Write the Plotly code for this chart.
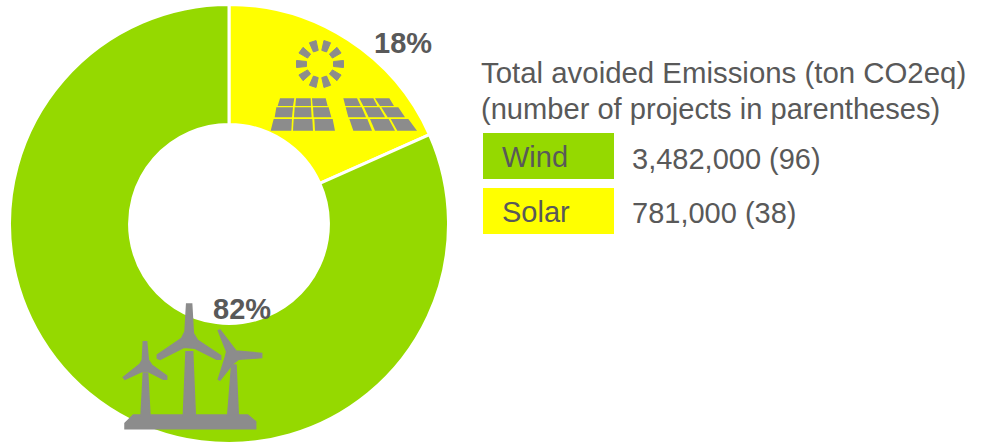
import math
import plotly.graph_objects as go

W, H = 983, 446  # the window clips the figure at 442 px, as the ring does in the reference
categories = ["Solar", "Wind"]
emissions = [781000, 3482000]
projects = [38, 96]
percent_labels = ["18%", "82%"]
colors = ["#FFFF00", "#95D900"]
GREY = "#8C8C8C"
TEXT = "#595959"
FONT = "Liberation Sans"


def path(points):
    return "M " + " L ".join(f"{x / W:.5f},{1 - y / H:.5f}" for x, y in points) + " Z"


def icon(points, stroke=0):
    return dict(type="path", xref="paper", yref="paper", path=path(points),
                fillcolor=GREY, line=dict(width=stroke, color=GREY), layer="above")


def zoomed(ox, oy, pts):
    return [(ox + x / 3, oy + y / 3) for x, y in pts]


shapes = []
# legend swatches
for y0, c in ((133, colors[1]), (188, colors[0])):
    shapes.append(dict(type="rect", xref="paper", yref="paper", x0=483 / W, x1=614 / W,
                       y0=1 - (y0 + 46) / H, y1=1 - y0 / H, fillcolor=c, line=dict(width=0), layer="above"))

# sun
cx, cy = 320, 64
for a in (0, 36, 72, 108, 144, 180, 216, 252, 288, 324):
    t = math.radians(a)
    ux, uy = math.cos(t), math.sin(t)
    px, py = -uy, ux
    shapes.append(icon([(cx + ux * 13.5 + px * 2.5, cy + uy * 13.5 + py * 2.5),
                        (cx + ux * 23.5 + px * 3.5, cy + uy * 23.5 + py * 3.5),
                        (cx + ux * 23.5 - px * 3.5, cy + uy * 23.5 - py * 3.5),
                        (cx + ux * 13.5 - px * 2.5, cy + uy * 13.5 - py * 2.5)], stroke=1))

# solar panels
panel_cells = [
    [(60, 235), (103, 235), (99, 258), (53, 258)], [(108, 235), (152, 235), (153, 258), (106, 258)],
    [(156, 235), (197, 235), (203, 258), (158, 258)],
    [(49, 262), (99, 262), (96, 292), (44, 292)], [(104, 262), (153, 262), (155, 292), (102, 292)],
    [(159, 262), (206, 262), (214, 292), (161, 292)],
    [(41, 297), (96, 297), (94, 332), (32, 332)], [(101, 297), (157, 297), (159, 332), (99, 332)],
    [(163, 297), (218, 297), (225, 332), (165, 332)],
    [(250, 235), (291, 235), (302, 258), (256, 258)], [(298, 235), (340, 235), (352, 258), (310, 258)],
    [(345, 235), (388, 235), (402, 258), (360, 258)],
    [(257, 262), (305, 262), (318, 292), (265, 292)], [(312, 262), (358, 262), (375, 292), (326, 292)],
    [(364, 262), (415, 262), (435, 292), (383, 292)],
    [(268, 297), (322, 297), (336, 332), (280, 332)], [(330, 297), (386, 297), (405, 332), (345, 332)],
    [(392, 297), (445, 297), (471, 332), (412, 332)],
]
for cell in panel_cells:
    shapes.append(icon(zoomed(260, 20, cell)))

# wind turbines
turbine_parts = [
    [(70, 375), (413, 375), (437, 395), (437, 416), (45, 416), (45, 400)],
    [(100, 250), (113, 250), (120, 378), (93, 378)],
    [(228, 185), (248, 185), (256, 378), (220, 378)],
    [(365, 225), (378, 225), (385, 378), (353, 378)],
    [(230, 42), (245, 42), (250, 130), (262, 150), (332, 197), (332, 208), (320, 208), (255, 175),
     (222, 172), (150, 208), (142, 205), (142, 195), (215, 145), (225, 125)],
    [(100, 155), (110, 155), (115, 210), (125, 225), (170, 258), (170, 268), (160, 268), (115, 245),
     (95, 245), (45, 268), (40, 262), (90, 222), (97, 210)],
    [(325, 122), (330, 120), (378, 183), (455, 190), (455, 203), (385, 208), (368, 222), (330, 270),
     (325, 268), (345, 205), (350, 185)],
]
for part in turbine_parts:
    shapes.append(icon(zoomed(110, 290, part), stroke=1.5))


def label(x, y, text, size=29, bold=False, anchor="left"):
    return dict(xref="paper", yref="paper", x=x / W, y=1 - y / H, text=f"<b>{text}</b>" if bold else text,
                showarrow=False, xanchor=anchor, yanchor="middle",
                font=dict(family=FONT, size=size, color=TEXT), borderpad=0, align="left")


def row(i):
    return f"{emissions[i]:,} ({projects[i]})"


annotations = [
    label(480, 72, "Total avoided Emissions (ton CO2eq)", size=29.4),
    label(480, 109, "(number of projects in parentheses)", size=29.1),
    label(501, 157, categories[1]),
    label(501, 212, categories[0]),
    label(631, 159, row(1)),
    label(631, 213, row(0)),
    label(403, 43, percent_labels[0], bold=True, anchor="center"),
    label(242, 309, percent_labels[1], bold=True, anchor="center"),
]

fig = go.Figure(go.Pie(
    labels=categories, values=emissions, sort=False, direction="clockwise", rotation=0,
    hole=0.453, textinfo="none", hoverinfo="label+percent",
    marker=dict(colors=colors, line=dict(color="white", width=3)),
    domain=dict(x=[9.5 / W, 448.5 / W], y=[1 - 443.5 / H, 1 - 4.5 / H]),
))
fig.update_layout(width=W, height=H, margin=dict(l=0, r=0, t=0, b=0), showlegend=False,
                  paper_bgcolor="white", plot_bgcolor="white", shapes=shapes, annotations=annotations)
fig.write_html("out.html", config=dict(displayModeBar=False),
               post_script="document.body.style.margin='0';document.body.style.overflow='hidden';")
